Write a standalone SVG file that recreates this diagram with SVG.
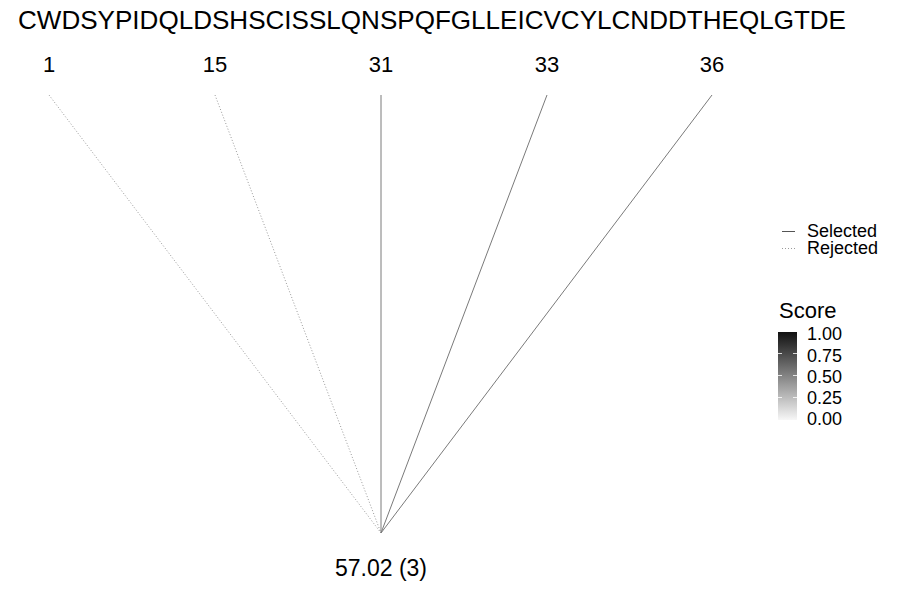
<svg xmlns="http://www.w3.org/2000/svg" width="900" height="600" viewBox="0 0 900 600">
<defs>
<style>
text{font-family:"Liberation Sans",Arial,sans-serif;fill:#000}
.seq{font-size:25px}
.num{font-size:22px;text-anchor:middle}
.leg{font-size:18px}
.tick{font-size:18px}
.sel{stroke:#7a7a7a;stroke-width:1;fill:none}
.rej{stroke:#9a9a9a;stroke-width:1;stroke-dasharray:1 2;fill:none}
</style>
<linearGradient id="sg" x1="0" y1="1" x2="0" y2="0">
<stop offset="0" stop-color="#f7f7f7"/>
<stop offset="1" stop-color="#111"/>
</linearGradient>
</defs>
<rect width="900" height="600" fill="#fff"/>
<text class="seq" x="18" y="29" textLength="828" lengthAdjust="spacingAndGlyphs">CWDSYPIDQLDSHSCISSLQNSPQFGLLEICVCYLCNDDTHEQLGTDE</text>
<g id="labels">
<text class="num" x="49" y="72">1</text>
<text class="num" x="215" y="72">15</text>
<text class="num" x="381" y="72">31</text>
<text class="num" x="547" y="72">33</text>
<text class="num" x="712" y="72">36</text>
</g>
<g id="connectors">
<line class="rej" x1="49" y1="95" x2="381" y2="533"/>
<line class="rej" x1="215" y1="95" x2="381" y2="533"/>
<line class="sel" x1="381" y1="95" x2="381" y2="533"/>
<line class="sel" x1="547" y1="95" x2="381" y2="533"/>
<line class="sel" x1="712" y1="95" x2="381" y2="533"/>
</g>
<g id="root">
<text class="num" x="381" y="576" style="font-size:23px">57.02 (3)</text>
</g>
<g id="legend">
<line x1="782" y1="231.5" x2="795" y2="231.5" stroke="#555" stroke-width="1"/>
<text class="leg" x="807" y="237">Selected</text>
<line class="rej" x1="782" y1="248.5" x2="795" y2="248.5" stroke="#555"/>
<text class="leg" x="807" y="254">Rejected</text>
<text x="779" y="318" style="font-size:22px">Score</text>
<rect x="778" y="332" width="19" height="88" fill="url(#sg)"/>
<g stroke="#fff" stroke-width="0.8">
<line x1="778" y1="353.5" x2="782" y2="353.5"/><line x1="793" y1="353.5" x2="797" y2="353.5"/>
<line x1="778" y1="375.5" x2="782" y2="375.5"/><line x1="793" y1="375.5" x2="797" y2="375.5"/>
<line x1="778" y1="397.5" x2="782" y2="397.5"/><line x1="793" y1="397.5" x2="797" y2="397.5"/>
</g>
<text class="tick" x="807" y="340">1.00</text>
<text class="tick" x="807" y="362">0.75</text>
<text class="tick" x="807" y="383">0.50</text>
<text class="tick" x="807" y="404">0.25</text>
<text class="tick" x="807" y="425">0.00</text>
</g>
</svg>
